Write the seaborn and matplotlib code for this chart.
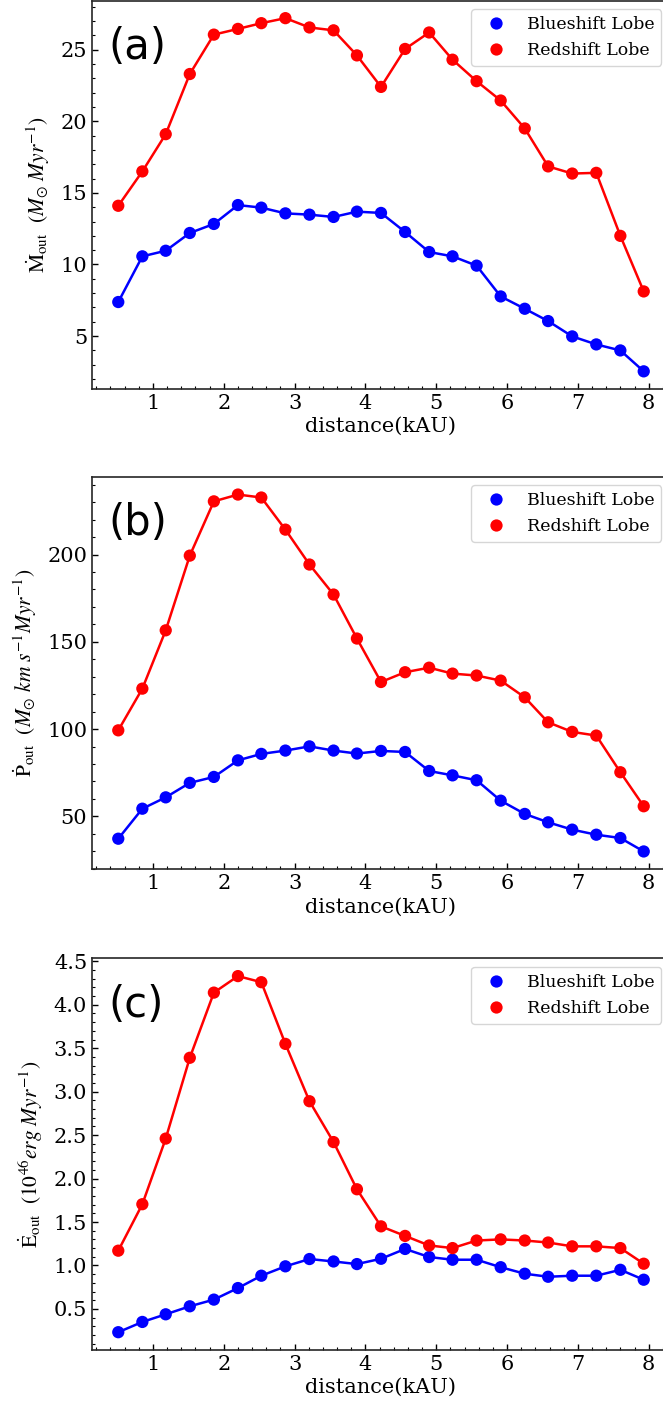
import matplotlib
matplotlib.use("Agg")
import matplotlib.pyplot as plt
import numpy as np
import pandas as pd
import seaborn as sns
from matplotlib.ticker import AutoMinorLocator, MultipleLocator, FormatStrFormatter

# projected distance of each slice along the outflow (kAU)
distance = [0.51, 0.85, 1.18, 1.52, 1.86, 2.20, 2.53, 2.87, 3.21, 3.55, 3.88, 4.22,
            4.56, 4.90, 5.23, 5.57, 5.91, 6.25, 6.58, 6.92, 7.26, 7.60, 7.93]

# mass outflow rate (Msun / Myr)
mdot_blue = [7.38, 10.57, 10.96, 12.20, 12.83, 14.15, 13.97, 13.57, 13.48, 13.32, 13.69, 13.60,
             12.27, 10.87, 10.57, 9.92, 7.77, 6.91, 6.05, 4.98, 4.42, 4.00, 2.54]
mdot_red = [14.10, 16.50, 19.10, 23.30, 26.05, 26.45, 26.85, 27.20, 26.55, 26.35, 24.60, 22.40,
            25.05, 26.20, 24.30, 22.80, 21.45, 19.50, 16.85, 16.35, 16.40, 12.00, 8.12]

# momentum rate (Msun km/s / Myr)
pdot_blue = [37.2, 54.4, 60.9, 69.2, 72.6, 82.1, 85.8, 87.7, 90.1, 87.7, 86.0, 87.5,
             86.9, 76.0, 73.5, 70.7, 59.0, 51.4, 46.6, 42.4, 39.5, 37.6, 29.9]
pdot_red = [99.3, 123.2, 156.6, 199.4, 230.5, 234.4, 232.7, 214.3, 194.3, 177.1, 151.9, 127.0,
            132.6, 135.2, 131.8, 130.7, 127.8, 118.2, 103.9, 98.4, 96.3, 75.3, 55.8]

# energy rate (1e46 erg / Myr)
edot_blue = [0.232, 0.350, 0.438, 0.530, 0.607, 0.740, 0.882, 0.990, 1.074, 1.046, 1.016, 1.077,
             1.190, 1.097, 1.066, 1.066, 0.980, 0.905, 0.870, 0.882, 0.882, 0.950, 0.836]
edot_red = [1.17, 1.705, 2.46, 3.39, 4.14, 4.33, 4.26, 3.55, 2.89, 2.42, 1.877, 1.45,
            1.34, 1.23, 1.20, 1.287, 1.30, 1.287, 1.264, 1.22, 1.22, 1.20, 1.02]

lobes = ["Blueshift Lobe", "Redshift Lobe"]
panel_tags = ["(a)", "(b)", "(c)"]
y_labels = [
    r"$\mathrm{\dot{M}_{out}}\ \ (M_{\odot}\ Myr^{-1})$",
    r"$\mathrm{\dot{P}_{out}}\ \ (M_{\odot}\ km\ s^{-1}Myr^{-1})$",
    r"$\mathrm{\dot{E}_{out}}\ \ (10^{46}erg\ Myr^{-1})$",
]
y_major_steps = [5, 50, 0.5]
y_formats = ["%g", "%g", "%.1f"]
x_label = "distance(kAU)"
x_ticks = [1, 2, 3, 4, 5, 6, 7, 8]

panels = [(mdot_blue, mdot_red), (pdot_blue, pdot_red), (edot_blue, edot_red)]

sns.set_style("ticks")
plt.rcParams["font.family"] = ["DejaVu Serif"]
plt.rcParams["mathtext.fontset"] = "stix"
plt.rcParams["text.color"] = "black"
plt.rcParams["axes.labelcolor"] = "black"
plt.rcParams["xtick.color"] = "black"
plt.rcParams["ytick.color"] = "black"

palette = {"Blueshift Lobe": "blue", "Redshift Lobe": "red"}

W, H = 663, 1412
fig = plt.figure(figsize=(W / 100, H / 100), dpi=100)

# axes boxes in pixels: (left, top, right, bottom)
boxes = [(92, 0.5, 670, 389), (92, 476.7, 670, 869.3), (92, 958.3, 670, 1350)]

for (blue, red), tag, ylab, step, fmt, (l, t, r, b) in zip(
        panels, panel_tags, y_labels, y_major_steps, y_formats, boxes):
    ax = fig.add_axes([l / W, 1 - b / H, (r - l) / W, (b - t) / H])
    df = pd.DataFrame({
        "distance": distance * 2,
        "value": list(blue) + list(red),
        "lobe": [lobes[0]] * len(blue) + [lobes[1]] * len(red),
    })
    sns.lineplot(data=df, x="distance", y="value", hue="lobe", palette=palette,
                 linewidth=1.8, legend=False, ax=ax)
    sns.scatterplot(data=df, x="distance", y="value", hue="lobe", palette=palette,
                    s=78, linewidth=0, ax=ax, zorder=3)
    ax.legend(loc="upper right", fontsize=12.5, frameon=True, edgecolor="0.8")
    ax.set_xlabel(x_label, fontsize=15, labelpad=3)
    ax.set_ylabel(ylab, fontsize=15.5, labelpad=6)
    ax.set_xticks(x_ticks)
    ax.xaxis.set_minor_locator(AutoMinorLocator(5))
    ax.yaxis.set_major_locator(MultipleLocator(step))
    ax.yaxis.set_major_formatter(FormatStrFormatter(fmt))
    ax.yaxis.set_minor_locator(AutoMinorLocator(5))
    ax.tick_params(axis="both", which="major", labelsize=15, length=4.5, width=1,
                   direction="in")
    ax.tick_params(axis="both", which="minor", length=2.5, width=0.8, direction="in")
    for sp in ax.spines.values():
        sp.set_linewidth(1.2)
        sp.set_color("0.15")
    ax.text(0.028, 0.935, tag, transform=ax.transAxes, fontsize=30,
            family="DejaVu Sans", va="top", ha="left", color="black")

fig.savefig("out.png", dpi=100)
